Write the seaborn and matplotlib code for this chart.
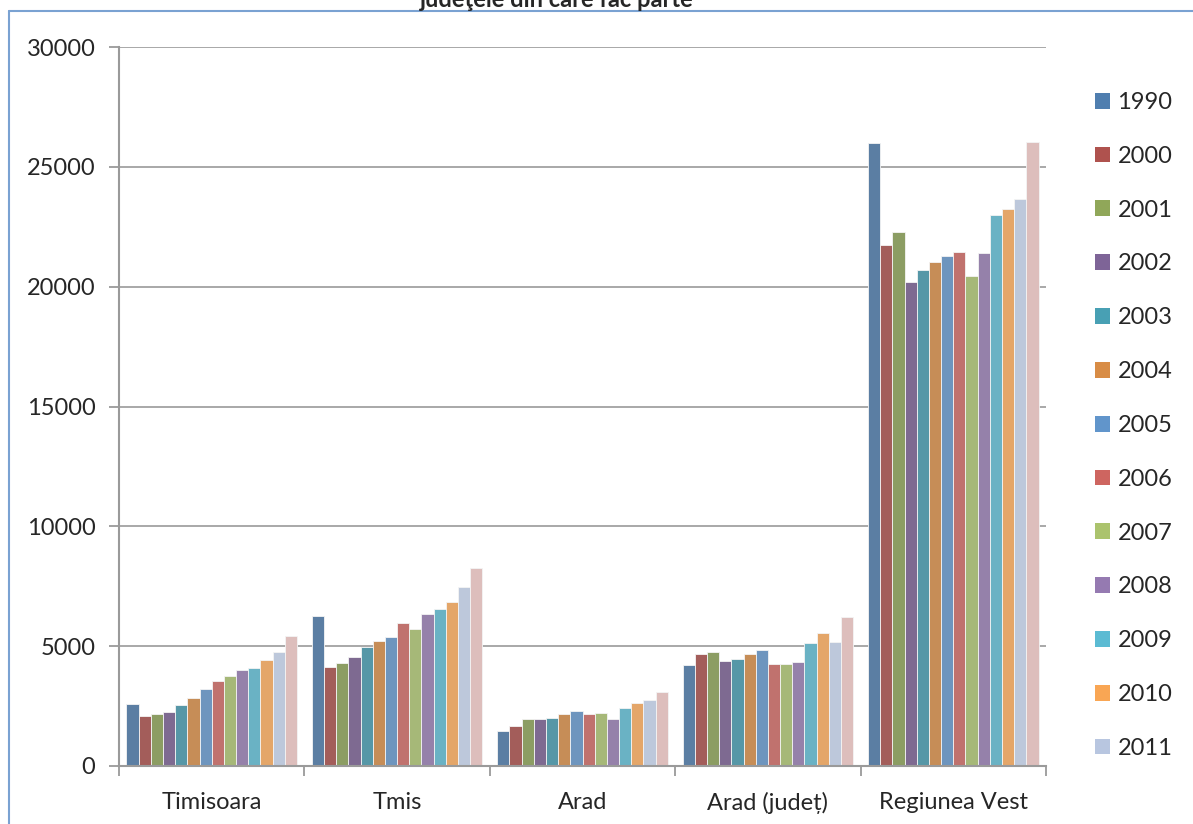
import pandas as pd
import seaborn as sns
import matplotlib.pyplot as plt
from matplotlib.patches import Patch
from matplotlib.lines import Line2D

# date
regions = ["Timisoara", "Tmis", "Arad", "Arad (județ)", "Regiunea Vest"]
years = ["1990", "2000", "2001", "2002", "2003", "2004", "2005",
         "2006", "2007", "2008", "2009", "2010", "2011", "2012"]

timisoara = [2600, 2100, 2150, 2250, 2550, 2830, 3200, 3550, 3750, 4000, 4070, 4420, 4750, 5430]
tmis = [6250, 4130, 4300, 4550, 4950, 5200, 5400, 5950, 5730, 6350, 6550, 6850, 7480, 8280]
arad = [1450, 1650, 1950, 1950, 2020, 2170, 2280, 2150, 2230, 1950, 2440, 2620, 2750, 3100]
arad_judet = [4200, 4680, 4740, 4370, 4470, 4690, 4840, 4260, 4260, 4340, 5120, 5560, 5190, 6220]
regiunea_vest = [26000, 21750, 22270, 20200, 20700, 21050, 21290, 21430, 20440, 21400, 23010, 23230, 23650, 26050]

colors = ["#4F7EAF", "#AF524E", "#90A759", "#7E6497", "#48A0B4", "#D88C45", "#6195CB",
          "#CE6560", "#ABC36D", "#957AB1", "#5BBBD3", "#F9A654", "#B8C6E0", "#E2B9B6"]

series = [timisoara, tmis, arad, arad_judet, regiunea_vest]
rows = []
for region, values in zip(regions, series):
    for year, value in zip(years, values):
        rows.append({"region": region, "year": year, "value": value})
data = pd.DataFrame(rows)

sns.set_theme(style="white")
plt.rcParams["font.family"] = ["Lato", "DejaVu Sans"]

fig = plt.figure(figsize=(11.93, 8.24), dpi=100)
W, H = 1193, 824
ax = fig.add_axes([119 / W, 1 - 766 / H, (1046 - 119) / W, (766 - 47) / H])

sns.barplot(
    data=data,
    x="region",
    y="value",
    hue="year",
    hue_order=years,
    palette=colors,
    width=0.92,
    gap=0,
    edgecolor="#F4F4F4",
    linewidth=0.6,
    legend=False,
    ax=ax,
)

ax.set_xlim(-0.5, len(regions) - 0.5)
ax.set_ylim(0, 30000)
ax.set_yticks(range(0, 30001, 5000))
ax.set_xlabel("")
ax.set_ylabel("")

grey = "#9A9A9A"
ax.set_axisbelow(True)
ax.yaxis.grid(True, color=grey, linewidth=1.2)
for side in ["top", "right"]:
    ax.spines[side].set_visible(False)
for side in ["left", "bottom"]:
    ax.spines[side].set_color(grey)
    ax.spines[side].set_linewidth(1.5)

fs = 17
ax.tick_params(axis="y", which="major", direction="out", length=7,
               width=1.3, color=grey, labelsize=fs, pad=10, left=True)
ax.tick_params(axis="x", which="major", length=0, labelsize=fs, pad=19)
ax.set_xticks([i - 0.5 for i in range(len(regions) + 1)], minor=True)
ax.tick_params(axis="x", which="minor", direction="out", length=7,
               width=1.3, color=grey, bottom=True)

# legenda (ultimul an nu apare, e taiat in original)
handles = [Patch(facecolor=c, edgecolor="none") for c in colors[:13]]
fig.legend(
    handles,
    years[:13],
    loc="upper left",
    bbox_to_anchor=(1095 / W, 1 - 92 / H),
    frameon=False,
    borderpad=0,
    borderaxespad=0,
    fontsize=fs,
    handlelength=0.65,
    handleheight=0.65,
    handletextpad=0.3,
    labelspacing=1.39,
)

# titlul, taiat sus ca in original
fig.text(557 / W, 1 - 7 / H, "judeţele din care fac parte",
         ha="center", va="baseline", fontsize=17, fontweight="bold")

# chenarul albastru
border = "#7AA2D2"
fig.add_artist(Line2D([9 / W, 1], [1 - 11 / H, 1 - 11 / H], color=border, linewidth=1.5))
fig.add_artist(Line2D([9 / W, 9 / W], [0, 1 - 11 / H], color=border, linewidth=1.5))

fig.savefig("out.png", dpi=100)
